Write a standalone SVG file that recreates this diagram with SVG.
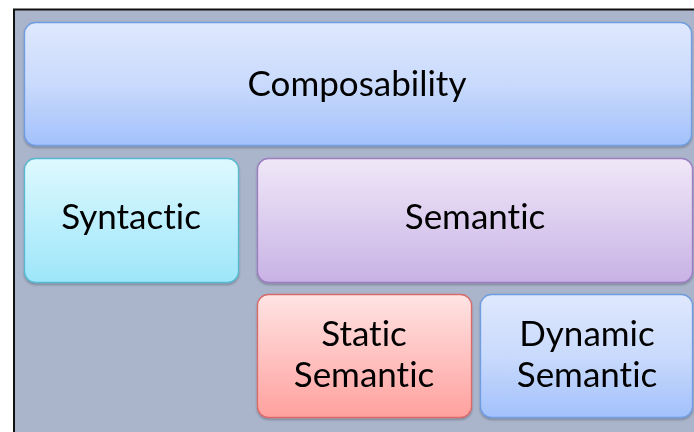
<svg xmlns="http://www.w3.org/2000/svg" width="694" height="432" viewBox="0 0 694 432">
  <style>
    .lbl { font-family: Lato, "Open Sans", sans-serif; font-size: 35px; fill: #000; text-anchor: middle; font-variant-ligatures: none; font-feature-settings: "liga" 0; }
    .box { stroke-width: 1.3; }
  </style>
  <defs>
    <linearGradient id="gBlue" x1="0" y1="0" x2="0" y2="1">
      <stop offset="0" stop-color="#dfe8fd"/>
      <stop offset="0.5" stop-color="#c9dafc"/>
      <stop offset="1" stop-color="#a2c1fb"/>
    </linearGradient>
    <linearGradient id="gCyan" x1="0" y1="0" x2="0" y2="1">
      <stop offset="0" stop-color="#def9fe"/>
      <stop offset="1" stop-color="#9de6fa"/>
    </linearGradient>
    <linearGradient id="gPurple" x1="0" y1="0" x2="0" y2="1">
      <stop offset="0" stop-color="#f0e8f8"/>
      <stop offset="1" stop-color="#c8b2e5"/>
    </linearGradient>
    <linearGradient id="gRed" x1="0" y1="0" x2="0" y2="1">
      <stop offset="0" stop-color="#ffe4e4"/>
      <stop offset="1" stop-color="#ffa19e"/>
    </linearGradient>
    <filter id="shadow" x="-5%" y="-5%" width="110%" height="115%">
      <feDropShadow dx="0" dy="1.5" stdDeviation="1.2" flood-color="#000" flood-opacity="0.3"/>
    </filter>
  </defs>

  <!-- canvas frame -->
  <rect x="0" y="0" width="694" height="432" fill="#ffffff"/>
  <rect x="14" y="9.5" width="700" height="440" fill="#aab5cc" stroke="#111" stroke-width="2"/>

  <g id="composability" filter="url(#shadow)">
    <rect class="box" x="24.5" y="22.5" width="667" height="123" rx="11" fill="url(#gBlue)" stroke="#6f9ce0"/>
    <text class="lbl" x="357" y="96">Composability</text>
  </g>

  <g id="syntactic" filter="url(#shadow)">
    <rect class="box" x="24.5" y="158.5" width="214" height="124" rx="11" fill="url(#gCyan)" stroke="#57b9d0"/>
    <text class="lbl" x="131" y="229">Syntactic</text>
  </g>

  <g id="semantic" filter="url(#shadow)">
    <rect class="box" x="257.5" y="158.5" width="435" height="124" rx="11" fill="url(#gPurple)" stroke="#9b7dc0"/>
    <text class="lbl" x="475" y="229">Semantic</text>
  </g>

  <g id="static-semantic" filter="url(#shadow)">
    <rect class="box" x="257.5" y="294.5" width="214" height="123" rx="11" fill="url(#gRed)" stroke="#d86b6b"/>
    <text class="lbl" x="364" y="346">Static</text>
    <text class="lbl" x="364" y="387">Semantic</text>
  </g>

  <g id="dynamic-semantic" filter="url(#shadow)">
    <rect class="box" x="480.5" y="294.5" width="212" height="123" rx="11" fill="url(#gBlue)" stroke="#6f9ce0"/>
    <text class="lbl" x="587" y="346">Dynamic</text>
    <text class="lbl" x="587" y="387">Semantic</text>
  </g>

  <g id="connectors"/>
</svg>
